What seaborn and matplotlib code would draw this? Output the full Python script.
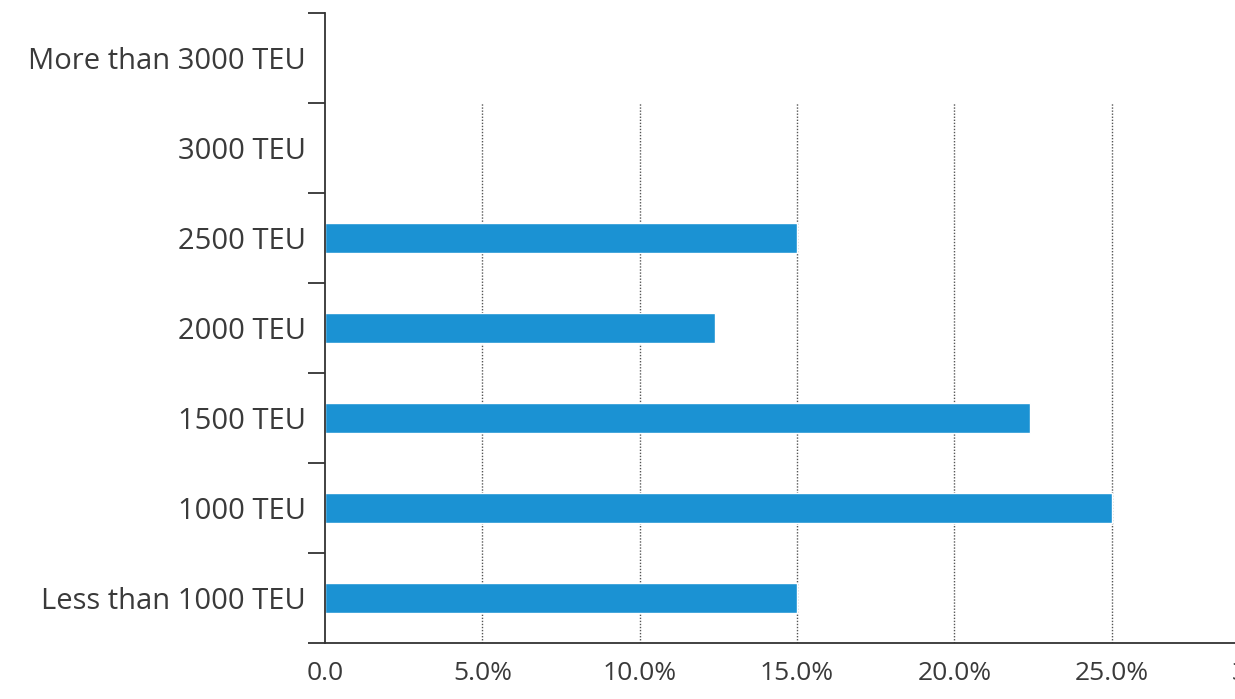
import numpy as np
import pandas as pd
import matplotlib
matplotlib.use("Agg")
import matplotlib.pyplot as plt
import seaborn as sns
from matplotlib.ticker import FixedLocator, FuncFormatter

# Datos (de arriba hacia abajo)
categorias = ["More than 3000 TEU", "3000 TEU", "2500 TEU", "2000 TEU",
              "1500 TEU", "1000 TEU", "Less than 1000 TEU"]
porcentajes = [0.0, 0.0, 15.0, 12.4, 22.4, 25.0, 15.0]
ticks_x = [0, 5, 10, 15, 20, 25, 30]

sns.set_theme(style="white")
plt.rcParams["font.family"] = ["Open Sans", "DejaVu Sans"]

df = pd.DataFrame({"categoria": categorias, "pct": porcentajes})

fig = plt.figure(figsize=(12.35, 6.99), dpi=100)
ax = fig.add_axes([0.2632, 0.0801, 0.7644, 0.9013])

sns.barplot(data=df, x="pct", y="categoria", order=categorias, color="#1b92d3",
            width=0.33, saturation=1, ax=ax)

ax.set_xlim(0, 30)
ax.set_ylim(len(categorias) - 0.5, -0.5)

# Cuadrícula punteada desde el límite de "3000 TEU" hacia abajo
ax.vlines(ticks_x[1:-1], len(categorias) - 0.5, 0.5, colors="#555555",
          linestyles=(0, (1, 1.2)), linewidth=1.0, zorder=0)

ax.xaxis.set_major_locator(FixedLocator(ticks_x))
ax.xaxis.set_major_formatter(FuncFormatter(lambda v, p: "0.0" if v == 0 else f"{v:.1f}%"))
ax.tick_params(axis="x", direction="out", length=10, width=1.3, color="#333333",
               labelsize=19, labelcolor="#3a3a3a", pad=3)

# Etiquetas de categorías y marcas entre categorías
ax.yaxis.set_minor_locator(FixedLocator(np.arange(-0.5, len(categorias), 1.0)))
ax.tick_params(axis="y", which="major", length=0, labelsize=21,
               labelcolor="#3a3a3a", pad=14)
ax.tick_params(axis="y", which="minor", left=True, length=12, width=1.3,
               color="#333333")
ax.set_xlabel("")
ax.set_ylabel("")

for s in ["top", "right"]:
    ax.spines[s].set_visible(False)
for s in ["left", "bottom"]:
    ax.spines[s].set_color("#333333")
    ax.spines[s].set_linewidth(1.3)

fig.savefig("out.png", dpi=100)
plt.close(fig)
